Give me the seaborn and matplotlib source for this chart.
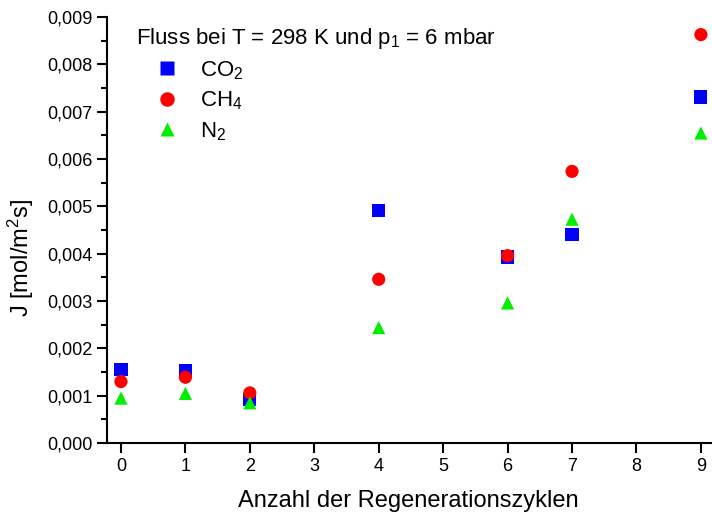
import matplotlib
matplotlib.use('Agg')
import matplotlib.pyplot as plt
import matplotlib.ticker as mticker
import seaborn as sns
import pandas as pd

# Data
zyklen = [0, 1, 2, 4, 6, 7, 9]
co2 = [0.00156, 0.00153, 0.00092, 0.00491, 0.00393, 0.00441, 0.00731]
ch4 = [0.00130, 0.00139, 0.00106, 0.00346, 0.00396, 0.00574, 0.00863]
n2 = [0.00095, 0.00105, 0.00085, 0.00244, 0.00296, 0.00473, 0.00655]
gases = ['CO$_2$', 'CH$_4$', 'N$_2$']

df = pd.DataFrame({
    'Zyklus': zyklen * 3,
    'J': co2 + ch4 + n2,
    'Gas': [g for g in gases for _ in zyklen],
})

sns.set_style('ticks')
plt.rcParams['font.family'] = ['Liberation Sans', 'DejaVu Sans']
plt.rcParams['mathtext.fontset'] = 'custom'
plt.rcParams['mathtext.rm'] = 'Liberation Sans'
plt.rcParams['mathtext.it'] = 'Liberation Sans'
for key in ['text.color', 'axes.labelcolor', 'xtick.color', 'ytick.color', 'axes.edgecolor']:
    plt.rcParams[key] = 'black'

fig = plt.figure(figsize=(7.12, 5.17), dpi=100)
ax = fig.add_axes([0.150, 0.143, 0.848, 0.824])

sns.scatterplot(data=df, x='Zyklus', y='J', hue='Gas', style='Gas',
                palette=['#0000ff', '#ff0000', '#00ee00'],
                markers=['s', 'o', '^'], s=90, edgecolor='none', ax=ax)

ax.set_xlim(-0.22, 9.15)
ax.set_ylim(0, 0.009)
ax.set_xticks(range(10))
ax.yaxis.set_major_locator(mticker.MultipleLocator(0.001))
ax.yaxis.set_minor_locator(mticker.MultipleLocator(0.0005))
ax.yaxis.set_major_formatter(mticker.FuncFormatter(lambda v, p: f'{v:.3f}'.replace('.', ',')))
ax.tick_params(axis='both', which='major', direction='out', length=7, width=1.5, labelsize=13)
ax.tick_params(axis='y', which='minor', direction='out', length=4, width=1.5)
for side in ['top', 'right']:
    ax.spines[side].set_visible(False)
for side in ['left', 'bottom']:
    ax.spines[side].set_linewidth(1.5)

ax.set_xlabel('Anzahl der Regenerationszyklen', fontsize=17, labelpad=11)
ax.set_ylabel('J [mol/m$^2$s]', fontsize=17)
ax.yaxis.set_label_coords(-0.118, 0.435)

leg = ax.legend(title='Fluss bei T = 298 K und p$_1$ = 6 mbar', loc='upper left',
                bbox_to_anchor=(0.015, 1.025), frameon=False, fontsize=16,
                title_fontsize=16, markerscale=1.1, handlelength=2.8,
                handletextpad=0.1, labelspacing=0.35)
leg._legend_box.align = 'left'

plt.savefig('out.png', dpi=100)
